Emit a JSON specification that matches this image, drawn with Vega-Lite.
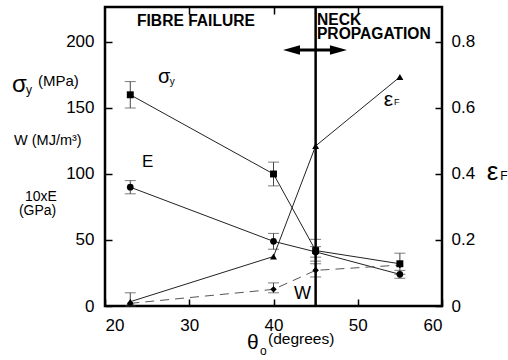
{
  "$schema": "https://vega.github.io/schema/vega-lite/v6.json",
  "width": 337,
  "height": 299,
  "autosize": "none",
  "padding": {"left": 105, "top": 7, "right": 66, "bottom": 54},
  "background": "white",
  "config": {
    "view": {"stroke": "black", "strokeWidth": 2.5},
    "axis": {
      "grid": false,
      "domain": false,
      "labelFont": "Liberation Sans",
      "labelFontSize": 17,
      "labelColor": "black",
      "tickColor": "black",
      "tickWidth": 1.5
    },
    "text": {"font": "Liberation Sans", "color": "black"}
  },
  "datasets": {
    "props": [
      {"theta": 23, "series": "sigma", "value": 160, "lo": 150, "hi": 170},
      {"theta": 40, "series": "sigma", "value": 100, "lo": 91, "hi": 109},
      {"theta": 45, "series": "sigma", "value": 42, "lo": 34, "hi": 50.5},
      {"theta": 55, "series": "sigma", "value": 32, "lo": 24, "hi": 40},
      {"theta": 23, "series": "E", "value": 90, "lo": 85, "hi": 95},
      {"theta": 40, "series": "E", "value": 49, "lo": 43, "hi": 55},
      {"theta": 45, "series": "E", "value": 41, "lo": 37, "hi": 45},
      {"theta": 55, "series": "E", "value": 24, "lo": 21, "hi": 27},
      {"theta": 23, "series": "W", "value": 2, "lo": 0, "hi": 10},
      {"theta": 40, "series": "W", "value": 12.6, "lo": 10, "hi": 17.5},
      {"theta": 45, "series": "W", "value": 27, "lo": 22, "hi": 32},
      {"theta": 55, "series": "W", "value": 31, "lo": null, "hi": null}
    ],
    "strain": [
      {"theta": 23, "eps": 0.013},
      {"theta": 40, "eps": 0.15},
      {"theta": 45, "eps": 0.485},
      {"theta": 55, "eps": 0.694}
    ],
    "one": [{}]
  },
  "layer": [
    {
      "layer": [
        {
          "data": {"name": "props"},
          "transform": [{"filter": "datum.lo != null"}],
          "mark": {"type": "rule", "color": "#444", "strokeWidth": 1},
          "encoding": {
            "x": {
              "field": "theta", "type": "quantitative",
              "scale": {"domain": [20, 60], "nice": false, "zero": false},
              "axis": {"orient": "bottom", "values": [20, 30, 40, 50, 60], "title": null, "tickSize": -7, "labelPadding": 18}
            },
            "y": {
              "field": "lo", "type": "quantitative",
              "scale": {"domain": [0, 226.5], "nice": false, "zero": false},
              "axis": {"orient": "left", "values": [0, 50, 100, 150, 200], "title": null, "tickSize": -7, "labelPadding": 18}
            },
            "y2": {"field": "hi"}
          }
        },
        {
          "data": {"name": "props"},
          "transform": [{"filter": "datum.lo != null"}, {"fold": ["lo", "hi"], "as": ["end", "level"]}],
          "mark": {"type": "tick", "orient": "horizontal", "color": "#444", "size": 11, "thickness": 1},
          "encoding": {
            "x": {"field": "theta", "type": "quantitative"},
            "y": {"field": "level", "type": "quantitative"}
          }
        },
        {
          "data": {"name": "props"},
          "transform": [{"filter": "datum.series != 'W'"}],
          "mark": {"type": "line", "color": "#222", "strokeWidth": 1},
          "encoding": {
            "x": {"field": "theta", "type": "quantitative"},
            "y": {"field": "value", "type": "quantitative"},
            "detail": {"field": "series"}
          }
        },
        {
          "data": {"name": "props"},
          "transform": [{"filter": "datum.series == 'W'"}],
          "mark": {"type": "line", "color": "#555", "strokeWidth": 1, "strokeDash": [9, 6]},
          "encoding": {
            "x": {"field": "theta", "type": "quantitative"},
            "y": {"field": "value", "type": "quantitative"}
          }
        },
        {
          "data": {"name": "props"},
          "mark": {"type": "point", "filled": true, "color": "black", "opacity": 1},
          "encoding": {
            "x": {"field": "theta", "type": "quantitative"},
            "y": {"field": "value", "type": "quantitative"},
            "shape": {"field": "series", "scale": {"domain": ["sigma", "E", "W"], "range": ["square", "circle", "diamond"]}, "legend": null},
            "size": {"field": "series", "scale": {"domain": ["sigma", "E", "W"], "range": [48, 42, 30]}, "legend": null}
          }
        },
        {
          "data": {"name": "one"},
          "layer": [
            {
              "mark": {"type": "rule", "color": "black", "strokeWidth": 2.5},
              "encoding": {"x": {"datum": 45}}
            },
            {
              "mark": {"type": "rule", "color": "black", "strokeWidth": 3},
              "encoding": {"x": {"datum": 42.14}, "x2": {"datum": 47.71}, "y": {"datum": 193.9}}
            },
            {
              "mark": {"type": "point", "filled": true, "color": "black", "opacity": 1, "size": 289, "shape": "M-1,0L1,-0.55L1,0.55Z"},
              "encoding": {"x": {"datum": 42.14}, "y": {"datum": 193.9}}
            },
            {
              "mark": {"type": "point", "filled": true, "color": "black", "opacity": 1, "size": 289, "shape": "M1,0L-1,-0.55L-1,0.55Z"},
              "encoding": {"x": {"datum": 47.71}, "y": {"datum": 193.9}}
            },
            {
              "mark": {"type": "text", "fontSize": 15.6, "fontWeight": "bold", "align": "left", "baseline": "alphabetic"},
              "encoding": {"x": {"datum": 23.8}, "y": {"datum": 212.1}, "text": {"value": "FIBRE FAILURE"}}
            },
            {
              "mark": {"type": "text", "fontSize": 15.6, "fontWeight": "bold", "align": "left", "baseline": "alphabetic"},
              "encoding": {"x": {"datum": 45.16}, "y": {"datum": 212.8}, "text": {"value": "NECK"}}
            },
            {
              "mark": {"type": "text", "fontSize": 15.6, "fontWeight": "bold", "align": "left", "baseline": "alphabetic"},
              "encoding": {"x": {"datum": 45.16}, "y": {"datum": 202.0}, "text": {"value": "PROPAGATION"}}
            },
            {
              "mark": {"type": "text", "fontSize": 24, "align": "left", "baseline": "alphabetic"},
              "encoding": {"x": {"datum": 8.96}, "y": {"datum": 162.1}, "text": {"value": "σ"}}
            },
            {
              "mark": {"type": "text", "fontSize": 12, "align": "left", "baseline": "alphabetic"},
              "encoding": {"x": {"datum": 10.62}, "y": {"datum": 160.6}, "text": {"value": "y"}}
            },
            {
              "mark": {"type": "text", "fontSize": 15, "align": "left", "baseline": "alphabetic"},
              "encoding": {"x": {"datum": 12.05}, "y": {"datum": 166.7}, "text": {"value": "(MPa)"}}
            },
            {
              "mark": {"type": "text", "fontSize": 14.5, "align": "left", "baseline": "alphabetic"},
              "encoding": {"x": {"datum": 9.2}, "y": {"datum": 122}, "text": {"value": "W (MJ/m³)"}}
            },
            {
              "mark": {"type": "text", "fontSize": 14, "align": "center", "baseline": "alphabetic"},
              "encoding": {"x": {"datum": 12.4}, "y": {"datum": 79.8}, "text": {"value": "10xE"}}
            },
            {
              "mark": {"type": "text", "fontSize": 14, "align": "center", "baseline": "alphabetic"},
              "encoding": {"x": {"datum": 12.0}, "y": {"datum": 69.0}, "text": {"value": "(GPa)"}}
            },
            {
              "mark": {"type": "text", "fontSize": 20, "align": "left", "baseline": "alphabetic"},
              "encoding": {"x": {"datum": 26.3}, "y": {"datum": 168.9}, "text": {"value": "σ"}}
            },
            {
              "mark": {"type": "text", "fontSize": 10, "align": "left", "baseline": "alphabetic"},
              "encoding": {"x": {"datum": 27.7}, "y": {"datum": 167.5}, "text": {"value": "y"}}
            },
            {
              "mark": {"type": "text", "fontSize": 17, "align": "left", "baseline": "alphabetic"},
              "encoding": {"x": {"datum": 24.39}, "y": {"datum": 105.3}, "text": {"value": "E"}}
            },
            {
              "mark": {"type": "text", "fontSize": 21, "align": "left", "baseline": "alphabetic"},
              "encoding": {"x": {"datum": 53.1}, "y": {"datum": 151.5}, "text": {"value": "ε"}}
            },
            {
              "mark": {"type": "text", "fontSize": 9, "align": "left", "baseline": "alphabetic"},
              "encoding": {"x": {"datum": 54.3}, "y": {"datum": 152.0}, "text": {"value": "F"}}
            },
            {
              "mark": {"type": "text", "fontSize": 18, "align": "left", "baseline": "alphabetic"},
              "encoding": {"x": {"datum": 42.43}, "y": {"datum": 5.3}, "text": {"value": "W"}}
            },
            {
              "mark": {"type": "text", "fontSize": 26, "align": "left", "baseline": "alphabetic"},
              "encoding": {"x": {"datum": 65.3}, "y": {"datum": 95.5}, "text": {"value": "ε"}}
            },
            {
              "mark": {"type": "text", "fontSize": 12, "align": "left", "baseline": "alphabetic"},
              "encoding": {"x": {"datum": 66.9}, "y": {"datum": 95.5}, "text": {"value": "F"}}
            },
            {
              "mark": {"type": "text", "fontSize": 21, "align": "left", "baseline": "alphabetic"},
              "encoding": {"x": {"datum": 36.85}, "y": {"datum": -32.6}, "text": {"value": "θ"}}
            },
            {
              "mark": {"type": "text", "fontSize": 12, "align": "left", "baseline": "alphabetic"},
              "encoding": {"x": {"datum": 38.4}, "y": {"datum": -37.1}, "text": {"value": "o"}}
            },
            {
              "mark": {"type": "text", "fontSize": 15.5, "align": "left", "baseline": "alphabetic"},
              "encoding": {"x": {"datum": 39.35}, "y": {"datum": -28.5}, "text": {"value": "(degrees)"}}
            }
          ]
        }
      ]
    },
    {
      "data": {"name": "strain"},
      "layer": [
        {
          "mark": {"type": "line", "color": "#222", "strokeWidth": 1},
          "encoding": {
            "x": {
              "field": "theta", "type": "quantitative",
              "scale": {"domain": [20, 60], "nice": false, "zero": false},
              "axis": {"orient": "top", "values": [30, 40, 50], "labels": false, "title": null, "tickSize": -7}
            },
            "y": {
              "field": "eps", "type": "quantitative",
              "scale": {"domain": [0, 0.906], "nice": false, "zero": false},
              "axis": {"orient": "right", "values": [0, 0.2, 0.4, 0.6, 0.8], "format": "~g", "title": null, "tickSize": -7, "labelPadding": 16}
            }
          }
        },
        {
          "mark": {"type": "point", "shape": "triangle-up", "filled": true, "color": "black", "opacity": 1, "size": 48},
          "encoding": {
            "x": {"field": "theta", "type": "quantitative"},
            "y": {"field": "eps", "type": "quantitative"}
          }
        }
      ]
    }
  ],
  "resolve": {
    "scale": {"y": "independent"},
    "axis": {"x": "independent", "y": "independent"}
  }
}
